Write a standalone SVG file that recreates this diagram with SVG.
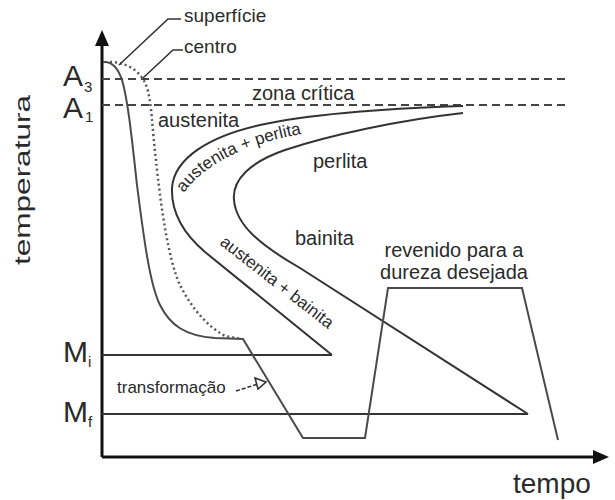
<svg xmlns="http://www.w3.org/2000/svg" width="615" height="500" viewBox="0 0 615 500">
<style>
text{font-family:"Liberation Sans",Arial,sans-serif;fill:#2a2a2a}
.ln{fill:none;stroke:#333;stroke-width:2;stroke-linejoin:round}
.cl{fill:none;stroke:#4a4a4a;stroke-width:2;stroke-linejoin:miter}
.dash{fill:none;stroke:#444;stroke-width:2;stroke-dasharray:8,5}
.dot{fill:none;stroke:#555;stroke-width:2.5;stroke-dasharray:2,3}
.ax{fill:none;stroke:#111;stroke-width:3}
.lead{fill:none;stroke:#333;stroke-width:1.6}
.lbl{font-size:20px}
.rot{font-size:17px}
</style>
<defs>
<path id="tp1" d="M 184,193 Q 215,148 312,132"/>
</defs>
<rect width="615" height="500" fill="#fff"/>
<g id="axes">
<path class="ax" d="M102,457 V44 M102,457 H595"/>
<polygon points="102,30 95,46 109,46" fill="#111"/>
<polygon points="609,457 593,450 593,464" fill="#111"/>
<text x="0" y="0" font-size="22" textLength="170" lengthAdjust="spacingAndGlyphs" transform="translate(30,265) rotate(-90)">temperatura</text>
<text x="513" y="493" font-size="28">tempo</text>
</g>
<g id="levels">
<path class="dash" d="M102,79 H568 M102,105 H568"/>
<path class="ln" d="M102,355 H332"/>
<path class="ln" d="M102,414 H528" stroke-width="2.4"/>
<text x="63" y="86" font-size="30">A</text><text x="84" y="92" font-size="15">3</text>
<text x="63" y="118" font-size="30">A</text><text x="85" y="122" font-size="15">1</text>
<text x="63" y="362" font-size="30">M</text><text x="88" y="367" font-size="15">i</text>
<text x="63" y="422" font-size="30">M</text><text x="88" y="427" font-size="15">f</text>
</g>
<g id="connectors">
<path id="c-outer" class="ln" d="M463,106 C400,108 320,112 260,125 C210,136 174,158 172,188 C171,215 185,235 205,252 L332,355"/>
<path id="c-inner" class="ln" d="M463,113 C400,120 330,135 285,150 C250,162 232,180 234,200 C236,225 260,245 300,268 L528,414"/>
<path id="surface" class="cl" d="M103,62 C112,61 118,68 122,80 C128,100 132,140 137,185 C144,240 150,285 160,305 C170,325 185,336 215,338 L243,339 L303,438 L365,438 L388,288 L522,288 L558,440"/>
<path id="center" class="dot" d="M110,62 C125,62 140,70 146,85 C152,100 152,130 156,160 C160,200 168,260 180,285 C190,305 205,325 225,336 L242,339"/>
<path class="lead" d="M181,19 H168 L119,65"/>
<path class="lead" d="M183,50 H173 L143,78"/>
<path class="lead" d="M236,391 L258,384" stroke-dasharray="4,2"/>
<polygon points="266,382 255,378 258,389" fill="#fff" stroke="#333" stroke-width="1.6"/>
</g>
<g id="labels">
<text x="184" y="22" font-size="19">superfície</text>
<text x="184" y="53" font-size="19">centro</text>
<text class="lbl" x="252" y="100">zona crítica</text>
<text class="lbl" x="158" y="127">austenita</text>
<text class="rot"><textPath href="#tp1">austenita</textPath></text>
<text class="rot"><textPath href="#tp1" startOffset="74">+ perlita</textPath></text>
<text class="lbl" x="313" y="168">perlita</text>
<text class="lbl" x="295" y="245">bainita</text>
<text class="rot" x="219" y="244" transform="rotate(38,219,244)">austenita + bainita</text>
<text class="lbl" x="454" y="257" text-anchor="middle">revenido para a</text>
<text class="lbl" x="454" y="279" text-anchor="middle">dureza desejada</text>
<text x="117" y="393" font-size="17">transformação</text>
</g>
</svg>
